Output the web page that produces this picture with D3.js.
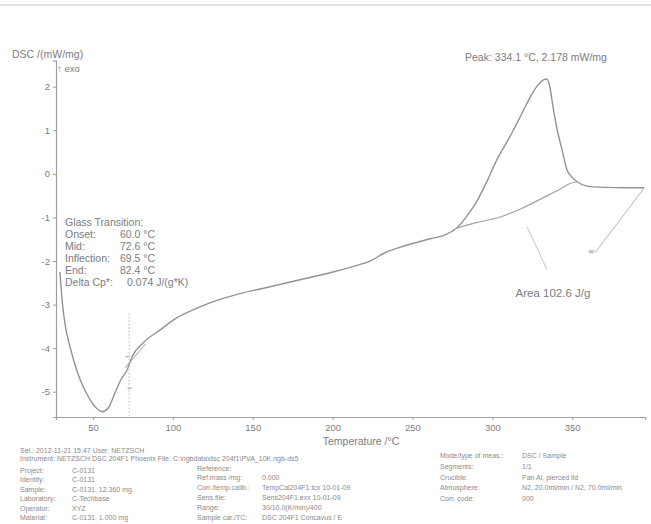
<!DOCTYPE html>
<html>
<head>
<meta charset="utf-8">
<script src="https://cdn.jsdelivr.net/npm/d3@7"></script>
<style>
  html, body { margin: 0; padding: 0; background: #fff; }
  svg { display: block; font-family: "Liberation Sans", Arial, sans-serif; }
</style>
</head>
<body>
<svg id="chart" width="651" height="524"></svg>
<script>
// DSC heating curve (°C vs mW/mg, exo up)
const tempC = [29.3, 30.6, 32.5, 35.6, 38.7, 41.9, 48.1, 51.9, 55.6, 59.4, 63.8, 67.5, 71.3, 74.4,
  81.3, 92.0, 102.6, 112.6, 123.3, 142.0, 160.8, 179.6, 198.4, 214.1, 223.5, 232.8, 245.4,
  261.0, 270.4, 277.5, 283.0, 290.0, 296.0, 302.5, 308.0, 313.0, 319.0, 324.0, 329.0, 332.0,
  334.1, 336.0, 338.0, 341.0, 343.7, 346.8, 350.0, 353.1, 359.3, 370.0, 385.0, 395.0];
const dscMW = [-2.25, -2.89, -3.46, -3.97, -4.38, -4.72, -5.18, -5.37, -5.46, -5.38, -5.02, -4.72,
  -4.50, -4.20, -3.88, -3.58, -3.30, -3.12, -2.96, -2.75, -2.59, -2.43, -2.27, -2.11, -2.00,
  -1.81, -1.65, -1.49, -1.40, -1.25, -1.02, -0.65, -0.22, 0.30, 0.66, 0.99, 1.42, 1.78, 2.06,
  2.16, 2.178, 2.00, 1.54, 0.95, 0.55, 0.09, -0.08, -0.18, -0.28, -0.31, -0.32, -0.32];

// integration baseline under the exothermic peak
const baseTemp = [277.5, 290.0, 304.9, 318.0, 331.8, 342.0, 348.7, 353.1];
const baseDsc = [-1.25, -1.12, -0.99, -0.80, -0.55, -0.36, -0.22, -0.18];

const xTicks = [50, 100, 150, 200, 250, 300, 350];
const yTicks = [2, 1, 0, -1, -2, -3, -4, -5];

const glassLines = ["Glass Transition:", "Onset:", "Mid:", "Inflection:", "End:", "Delta Cp*:"];
const glassValues = ["", "60.0 °C", "72.6 °C", "69.5 °C", "82.4 °C", "0.074 J/(g*K)"];
const glassMid = 72.6;

const peakTemp = 334.1, peakValue = 2.178;
const areaText = "Area 102.6 J/g";

const footLine1 = "Sel.: 2012-11-21 15:47   User: NETZSCH";
const footLine2 = "Instrument: NETZSCH DSC 204F1 Phoenix    File: C:\\ngbdata\\dsc 204f1\\PVA_10K.ngb-ds5";
const footLeftKeys = ["Project:", "Identity:", "Sample:", "Laboratory:", "Operator:", "Material:"];
const footLeftVals = ["C-0131", "C-0131", "C-0131, 12.360 mg", "C-Techbase", "XYZ", "C-0131, 1.000 mg"];
const footMidKeys = ["Reference:", "Ref.mass /mg:", "Corr./temp.calib.:", "Sens.file:", "Range:", "Sample car./TC:"];
const footMidVals = ["", "0.000", "TempCal204F1.tcx 10-01-09", "Sens204F1.exx 10-01-09", "30/10.0(K/min)/400", "DSC 204F1 Concavus / E"];
const footRightKeys = ["Mode/type of meas.:", "Segments:", "Crucible:", "Atmosphere:", "Corr. code:"];
const footRightVals = ["DSC / Sample", "1/1", "Pan Al, pierced lid", "N2, 20.0ml/min / N2, 70.0ml/min", "000"];

const svg = d3.select("#chart");
const ink = "#939393", textInk = "#7c7c7c";

const x = d3.scaleLinear().domain([26.8, 395.6]).range([56, 645]);
const y = d3.scaleLinear().domain([-5.58, 2.6]).range([417, 60.6]);

// faint rule across the top of the sheet
svg.append("line").attr("x1", 0).attr("x2", 651).attr("y1", 5).attr("y2", 5)
  .attr("stroke", "#e4e4e4").attr("stroke-width", 2);

// axes
const xAxis = svg.append("g").attr("transform", `translate(0,${y(-5.58)})`)
  .call(d3.axisBottom(x).tickValues(xTicks).tickSize(3).tickFormat(d3.format("d")));
const yAxis = svg.append("g").attr("transform", `translate(${x(26.8)},0)`)
  .call(d3.axisLeft(y).tickValues(yTicks).tickSize(3).tickFormat(d => d < 0 ? "-" + Math.abs(d) : d));
[xAxis, yAxis].forEach(g => {
  g.select(".domain").attr("stroke", "#a0a0a0").attr("stroke-width", 1.2);
  g.selectAll(".tick line").attr("stroke", "#a0a0a0");
  g.selectAll(".tick text").attr("fill", textInk).attr("font-size", 9.5)
    .attr("font-family", "Liberation Sans, Arial, sans-serif");
});
xAxis.selectAll(".tick text").attr("dy", "0.8em");

svg.append("text").attr("x", 361).attr("y", 445).attr("text-anchor", "middle")
  .attr("font-size", 10.5).attr("fill", textInk).text("Temperature /°C");
svg.append("text").attr("x", 12).attr("y", 58).attr("font-size", 10.5).attr("fill", textInk)
  .text("DSC /(mW/mg)");
svg.append("text").attr("x", 57).attr("y", 72).attr("font-size", 9.5).attr("fill", textInk)
  .text("↑ exo");

const line = d3.line().curve(d3.curveMonotoneX).x(d => x(d[0])).y(d => y(d[1]));

// main curve
svg.append("path").datum(d3.zip(tempC, dscMW)).attr("d", line)
  .attr("fill", "none").attr("stroke", ink).attr("stroke-width", 1.4);

// peak baseline
svg.append("path").datum(d3.zip(baseTemp, baseDsc)).attr("d", line)
  .attr("fill", "none").attr("stroke", "#a2a2a2").attr("stroke-width", 1.2);

// glass transition: dotted mid line, tangent and markers
svg.append("line").attr("x1", x(glassMid)).attr("x2", x(glassMid))
  .attr("y1", y(-3.2)).attr("y2", y(-5.55))
  .attr("stroke", "#b5b5b5").attr("stroke-dasharray", "1.5,2");
svg.append("line").attr("x1", x(70)).attr("y1", y(-4.45)).attr("x2", x(83)).attr("y2", y(-3.9))
  .attr("stroke", "#a0a0a0").attr("stroke-width", 1);
[[72, -4.2], [73.5, -4.92]].forEach(p => {
  svg.append("line").attr("x1", x(p[0]) - 3).attr("x2", x(p[0]) + 1)
    .attr("y1", y(p[1])).attr("y2", y(p[1])).attr("stroke", "#a0a0a0");
});

const gt = svg.append("g").attr("font-size", 10.5).attr("fill", textInk);
glassLines.forEach((t, i) => {
  gt.append("text").attr("x", 65).attr("y", 226 + i * 12).text(t);
  if (glassValues[i]) gt.append("text").attr("x", i === 5 ? 127 : 120).attr("y", 226 + i * 12).text(glassValues[i]);
});

// peak annotation
svg.append("text").attr("x", 536).attr("y", 61).attr("text-anchor", "middle")
  .attr("font-size", 10.5).attr("fill", textInk)
  .text(`Peak: ${peakTemp} °C, ${peakValue} mW/mg`);

// area annotation with leader and end-limit line
svg.append("line").attr("x1", x(321.8)).attr("y1", y(-1.22)).attr("x2", x(334.3)).attr("y2", y(-2.2))
  .attr("stroke", "#c4c4c4").attr("stroke-width", 1);
svg.append("line").attr("x1", x(395)).attr("y1", y(-0.33)).attr("x2", x(364.5)).attr("y2", y(-1.8))
  .attr("stroke", "#b5b5b5").attr("stroke-width", 1);
svg.append("text").attr("x", x(362)).attr("y", y(-1.84)).attr("font-size", 8).attr("fill", textInk)
  .attr("text-anchor", "middle").text("∞");
svg.append("text").attr("x", 553).attr("y", 297).attr("text-anchor", "middle")
  .attr("font-size", 11.5).attr("fill", textInk).text(areaText);

// footer information block
const ft = svg.append("g").attr("font-size", 7).attr("fill", "#8a8a8a");
ft.append("text").attr("x", 20).attr("y", 453).text(footLine1);
ft.append("text").attr("x", 20).attr("y", 461).text(footLine2);
footLeftKeys.forEach((k, i) => {
  ft.append("text").attr("x", 20).attr("y", 473 + i * 9.4).text(k);
  ft.append("text").attr("x", 72).attr("y", 473 + i * 9.4).text(footLeftVals[i]);
});
footMidKeys.forEach((k, i) => {
  ft.append("text").attr("x", 197).attr("y", 470.5 + i * 9.8).text(k);
  ft.append("text").attr("x", 262).attr("y", 470.5 + i * 9.8).text(footMidVals[i]);
});
footRightKeys.forEach((k, i) => {
  ft.append("text").attr("x", 440).attr("y", 458 + i * 10.8).text(k);
  ft.append("text").attr("x", 522).attr("y", 458 + i * 10.8).text(footRightVals[i]);
});
</script>
</body>
</html>
